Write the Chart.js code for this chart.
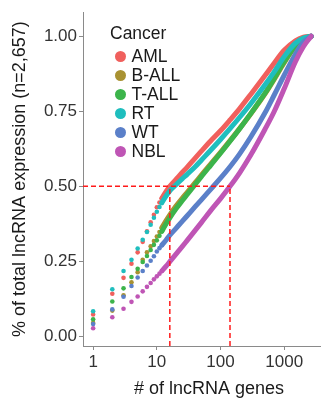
<!DOCTYPE html>
<html>
<head>
<meta charset="utf-8">
<script src="https://cdn.jsdelivr.net/npm/chart.js@4.4.1/dist/chart.umd.min.js"></script>
<style>
  html, body { margin: 0; padding: 0; background: #fff; overflow: hidden; }
  #wrap { position: relative; width: 321px; height: 402px; overflow: hidden; }
  #legend {
    position: absolute; left: 110px; top: 23px;
    font-family: "Liberation Sans", Arial, sans-serif; font-size: 17.5px; color: #1a1a1a;
  }
  #legend .title { height: 24px; line-height: 20px; }
  #legend .item { height: 19px; line-height: 19px; display: flex; align-items: center; }
  #legend .dot { width: 11px; height: 11px; border-radius: 50%; margin: 0 6px 0 4.5px; }
</style>
</head>
<body>
<div id="wrap">
  <canvas id="cumChart" width="339" height="402"></canvas>
  <div id="legend"></div>
</div>
<script>
// number of top genes (x) and cumulative share of expression (y) per cancer
const geneCounts = [1, 2, 3, 4, 5, 6, 7, 8, 9, 10, 11, 12, 14, 16, 20, 25, 30, 40, 50, 70, 100, 141, 200, 300, 500, 700, 1000, 1500, 2000, 2657];
const aml  = [.073, .142, .195, .242, .28, .315, .35, .38, .405, .43, .446, .46, .483, .50, .523, .546, .564, .594, .617, .651, .685, .721, .759, .807, .869, .911, .953, .985, .997, 1.0];
const bAll = [.045, .086, .137, .18, .214, .255, .28, .30, .318, .333, .348, .362, .386, .405, .434, .46, .48, .512, .537, .574, .613, .652, .693, .742, .808, .857, .912, .966, .99, 1.0];
const tAll = [.057, .116, .16, .198, .225, .248, .268, .288, .305, .32, .335, .35, .375, .395, .425, .452, .473, .506, .532, .57, .61, .65, .692, .743, .81, .86, .915, .968, .991, 1.0];
const rt   = [.084, .157, .218, .255, .293, .322, .348, .372, .395, .415, .431, .445, .468, .485, .505, .525, .54, .565, .587, .62, .656, .692, .73, .776, .838, .882, .932, .977, .994, 1.0];
const wt   = [.041, .09, .132, .168, .196, .218, .236, .252, .267, .283, .294, .304, .321, .337, .36, .383, .402, .432, .455, .49, .527, .565, .608, .665, .745, .805, .87, .94, .98, 1.0];
const nbl  = [.027, .064, .092, .115, .133, .15, .165, .178, .19, .2, .209, .218, .234, .249, .274, .299, .32, .353, .379, .419, .459, .5, .545, .605, .69, .75, .825, .915, .965, 1.0];

const seriesNames = ['AML', 'B-ALL', 'T-ALL', 'RT', 'WT', 'NBL'];
const seriesValues = [aml, bAll, tAll, rt, wt, nbl];
const seriesColors = ['#f0605d', '#a99232', '#3cb44b', '#1fbebe', '#5b80c9', '#bf55b5'];

const cutoffFraction = 0.5;
const cutoffGenes = [16, 141];
const xTicks = [1, 10, 100, 1000];
const yTicks = [0, 0.25, 0.5, 0.75, 1];

const X_MIN = 0.693, X_MAX = 6280;
const Y_MIN = -0.032, Y_MAX = 1.08;
const DOT_LIMIT = 12;   // separate dots up to here, then a continuous line
const FONT = '"Liberation Sans", Arial, sans-serif';
const AXIS_GREY = '#8a8a8a';

function buildDatasets() {
    const sets = [];
    const dash = { borderColor: '#ff1a1a', borderWidth: 1.5, borderDash: [5, 3], pointRadius: 0, order: 0, fill: false };
    sets.push({ ...dash, data: [{ x: X_MIN, y: cutoffFraction }, { x: cutoffGenes[1], y: cutoffFraction }] });
    cutoffGenes.forEach(g => {
        sets.push({ ...dash, data: [{ x: g, y: Y_MIN }, { x: g, y: cutoffFraction }] });
    });

    seriesValues.forEach((vals, i) => {
        sets.push({
            label: seriesNames[i],
            data: geneCounts.map((g, k) => ({ x: g, y: vals[k] })),
            borderColor: seriesColors[i],
            backgroundColor: seriesColors[i],
            borderWidth: 5,
            borderCapStyle: 'round',
            cubicInterpolationMode: 'monotone',
            pointRadius: ctx => (ctx.raw && ctx.raw.x <= DOT_LIMIT ? 2.3 : 0),
            pointBorderWidth: 0,
            segment: {
                borderColor: ctx => (ctx.p0.parsed.x < DOT_LIMIT ? 'transparent' : undefined)
            },
            order: seriesNames.length - i,
            fill: false
        });
    });
    return sets;
}

function renderLegend() {
    const box = document.getElementById('legend');
    let html = '<div class="title">Cancer</div>';
    seriesNames.forEach((name, i) => {
        html += `<div class="item"><span class="dot" style="background:${seriesColors[i]}"></span>${name}</div>`;
    });
    box.innerHTML = html;
}

const config = {
    type: 'line',
    data: { datasets: buildDatasets() },
    options: {
        responsive: false,
        animation: false,
        events: [],
        layout: { padding: 0 },
        plugins: { legend: { display: false }, tooltip: { enabled: false } },
        scales: {
            x: {
                type: 'logarithmic',
                min: X_MIN,
                max: X_MAX,
                afterBuildTicks: scale => { scale.ticks = xTicks.map(v => ({ value: v })); },
                afterFit: scale => { scale.height = 56; },
                ticks: {
                    autoSkip: false, maxRotation: 0, padding: 2,
                    color: '#333', font: { family: FONT, size: 17 },
                    callback: v => String(v)
                },
                grid: { drawOnChartArea: false, drawTicks: true, tickLength: 4, color: AXIS_GREY },
                border: { display: true, color: AXIS_GREY, width: 1 },
                title: {
                    display: true, text: '# of lncRNA genes', color: '#1a1a1a',
                    font: { family: FONT, size: 18 }, padding: { top: 0, bottom: 2 }
                }
            },
            y: {
                type: 'linear',
                min: Y_MIN,
                max: Y_MAX,
                afterBuildTicks: scale => { scale.ticks = yTicks.map(v => ({ value: v })); },
                afterFit: scale => { scale.width = 83; },
                ticks: {
                    padding: 2, color: '#333', font: { family: FONT, size: 17 },
                    callback: v => Number(v).toFixed(2)
                },
                grid: { drawOnChartArea: false, drawTicks: true, tickLength: 4, color: AXIS_GREY },
                border: { display: true, color: AXIS_GREY, width: 1 },
                title: {
                    display: true, text: '% of total lncRNA expression (n=2,657)', color: '#1a1a1a',
                    font: { family: FONT, size: 18 }, padding: { top: 9, bottom: 0 }
                }
            }
        }
    }
};

new Chart(document.getElementById('cumChart'), config);
renderLegend();
</script>
</body>
</html>
